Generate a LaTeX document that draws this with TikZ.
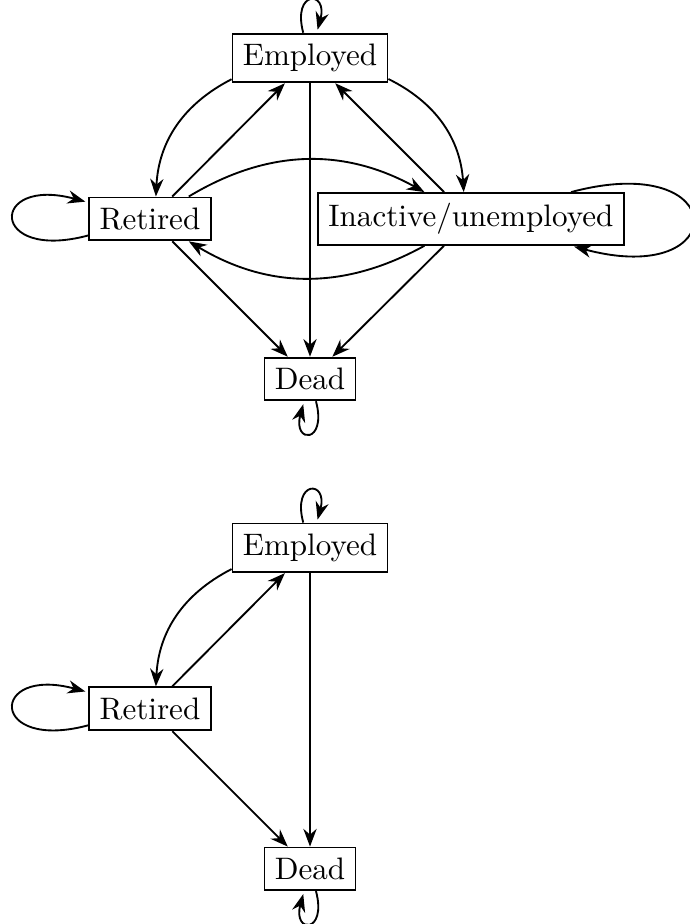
\documentclass[tikz,border=0pt]{standalone}
\usepackage{amsmath, amssymb}
\usepackage{tikz}
\usetikzlibrary{arrows.meta, positioning, calc}

\begin{document}
\begin{tikzpicture}[>=Stealth, semithick, state/.style={draw, rectangle}]
        \useasboundingbox (-3.506,0.656) rectangle (4.297,-9.794);
        % Four-state model
        \node [state] (emp) at (0,0) {Employed};
        \node [state] (ret) at (-1.81,-1.82) {Retired};
        \node [state] (inact) at (1.82,-1.82) {Inactive/unemployed};
        \node [state] (dead) at (0,-3.63) {Dead};
        \draw [->] (emp) edge [loop above] (emp);
        \draw [->] (emp) edge [bend right] (ret);
        \draw [->] (emp) edge [bend left] (inact);
        \draw [->] (emp) edge (dead);
        \draw [->] (ret) edge [loop left] (ret);
        \draw [->] (ret) edge (emp);
        \draw [->] (ret) edge [bend left] (inact);
        \draw [->] (ret) edge (dead);
        \draw [->] (inact) edge [loop right] (inact);
        \draw [->] (inact) edge (emp);
        \draw [->] (inact) edge [bend left] (ret);
        \draw [->] (inact) edge (dead);
        \draw [->] (dead) edge [loop below] (dead);
        % Three-state model
        \node [state] (emp2) at (0,-5.54) {Employed};
        \node [state] (ret2) at (-1.81,-7.36) {Retired};
        \node [state] (dead2) at (0,-9.17) {Dead};
        \draw [->] (emp2) edge [loop above] (emp2);
        \draw [->] (emp2) edge [bend right] (ret2);
        \draw [->] (emp2) edge (dead2);
        \draw [->] (ret2) edge [loop left] (ret2);
        \draw [->] (ret2) edge (emp2);
        \draw [->] (ret2) edge (dead2);
        \draw [->] (dead2) edge [loop below] (dead2);
    \end{tikzpicture}
\end{document}
